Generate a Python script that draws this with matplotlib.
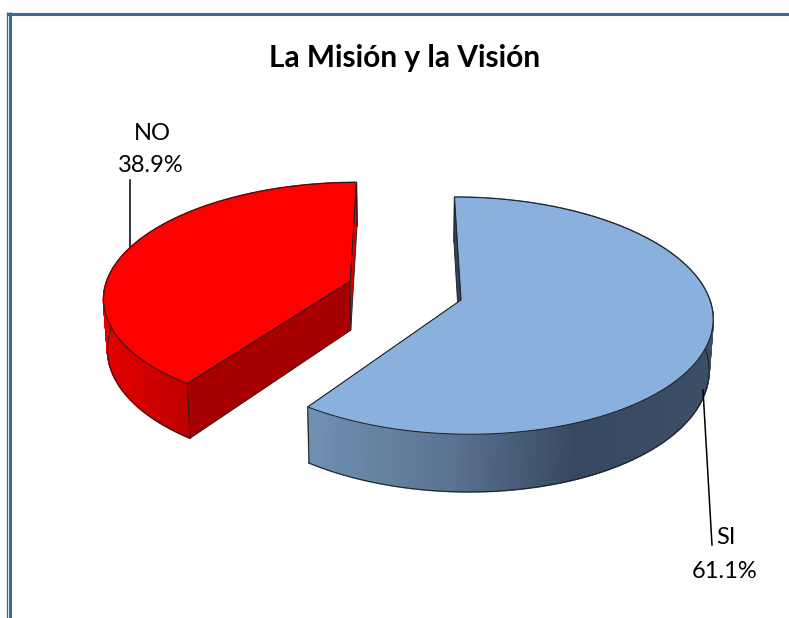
import numpy as np
import matplotlib
matplotlib.use("Agg")
import matplotlib.pyplot as plt
from matplotlib.collections import PolyCollection
from matplotlib.colors import to_rgb
from matplotlib.patches import Polygon

# Survey results
categories = ["SI", "NO"]
shares = [61.1, 38.9]
title = "La Misión y la Visión"

# Slice colours
top_colors = ["#8AB0DE", "#FF0000"]
start_cut_colors = ["#2F4258", "#A80000"]
end_cut_colors = ["#2F4258", "#DC0000"]
side_stops = [
    ([310, 450, 575, 720], ["#7090B2", "#5B7391", "#364960", "#3C4F66"]),
    ([100, 190], ["#E60000", "#BC0000"]),
]

# Perspective view of the pie, in pixel units
CX, CY = 405.0, 290.5
RX, RY = 246.0, 114.0
PERSP = 0.131
DEPTH = 49.5
TAPER = 0.013
EXPLODE = 0.24
SKEW_DEG = 5.0


def view_angle(deg):
    """Value angle (clockwise from north) to its angle on the tilted disc."""
    return deg - SKEW_DEG * np.sin(np.radians(2 * deg))


def project(X, Y, z=0.0):
    w = 1 + PERSP * Y
    s = 1 - TAPER * z
    return CX + RX * X / w * s, CY - RY * Y / w + DEPTH * z / w


def blend(stops, colors, x):
    rgb = np.array([to_rgb(c) for c in colors])
    return tuple(np.interp(x, stops, rgb[:, i]) for i in range(3))


fig = plt.figure(figsize=(7.89, 6.18), dpi=100)
ax = fig.add_axes([0, 0, 1, 1])
ax.set_xlim(0, 789)
ax.set_ylim(618, 0)
ax.axis("off")
plt.rcParams["font.family"] = ["Lato", "DejaVu Sans"]

# Double rule on the top and left of the frame
frame = "#3E6797"
ax.plot([7.5, 7.5], [12, 618], color=frame, lw=0.9, solid_capstyle="butt")
ax.plot([10.5, 10.5], [12, 618], color=frame, lw=2.2, solid_capstyle="butt")
ax.plot([7, 789], [13.5, 13.5], color=frame, lw=2.2, solid_capstyle="butt")

ax.text(405, 58, title, ha="center", va="center", fontsize=21.5, fontweight="bold", color="black")

edges = np.cumsum([0] + shares) / sum(shares) * 360
line = "#1E1E1E"

# Leader line behind the red slice
ax.plot([130, 130], [180, 249], color="black", lw=1.1, zorder=1)

for i, share in enumerate(shares):
    a0, a1 = edges[i], edges[i + 1]
    mid = np.radians((a0 + a1) / 2)
    ox, oy = EXPLODE * np.sin(mid), EXPLODE * np.cos(mid)

    th = np.radians(view_angle(np.linspace(a0, a1, 240)))
    X, Y = ox + np.sin(th), oy + np.cos(th)
    xt, yt = project(X, Y, 0)
    xb, yb = project(X, Y, 1)
    apex_t = project(ox, oy, 0)
    apex_b = project(ox, oy, 1)

    # Outer rim, shaded across its width
    quads, cols = [], []
    stops, colors = side_stops[i]
    for j in range(len(th) - 1):
        quads.append([(xt[j], yt[j]), (xt[j + 1], yt[j + 1]), (xb[j + 1], yb[j + 1]), (xb[j], yb[j])])
        cols.append(blend(stops, colors, (xt[j] + xt[j + 1]) / 2))
    ax.add_collection(PolyCollection(quads, facecolors=cols, edgecolors=cols, linewidths=1.2, zorder=2))
    ax.plot(xb, yb, color=line, lw=0.7, zorder=2.5)
    ax.plot([xt[-1], xb[-1]], [yt[-1], yb[-1]], color=line, lw=0.7, zorder=2.5)

    # Flat cut faces; a face turned away from the viewer stays behind the rim
    for k, angle, normal, face in ((0, a0, a0 - 90, start_cut_colors[i]),
                                   (-1, a1, a1 + 90, end_cut_colors[i])):
        facing = np.cos(np.radians(normal)) < 1e-9
        ax.add_patch(Polygon([apex_t, (xt[k], yt[k]), (xb[k], yb[k]), apex_b],
                             facecolor=face, edgecolor=line, lw=0.6,
                             joinstyle="round", zorder=3 if facing else 1.5))

    # Top surface
    outline = [apex_t] + list(zip(xt, yt))
    ax.add_patch(Polygon(outline, closed=True, facecolor=top_colors[i], edgecolor=line, lw=0.7,
                         joinstyle="round", zorder=5))

# Value labels with leader lines
label_kw = dict(ha="center", va="center", fontsize=17, color="black", zorder=6)
pct = {c: f"{s:.1f}%" for c, s in zip(categories, shares)}
ax.text(152, 133, "NO", **label_kw)
ax.text(151, 166, pct["NO"], **label_kw)
ax.plot([703, 712], [390, 545], color="black", lw=1.1, zorder=6)
ax.text(726, 538, "SI", **label_kw)
ax.text(725, 571, pct["SI"], **label_kw)

fig.savefig("out.png", dpi=100)
